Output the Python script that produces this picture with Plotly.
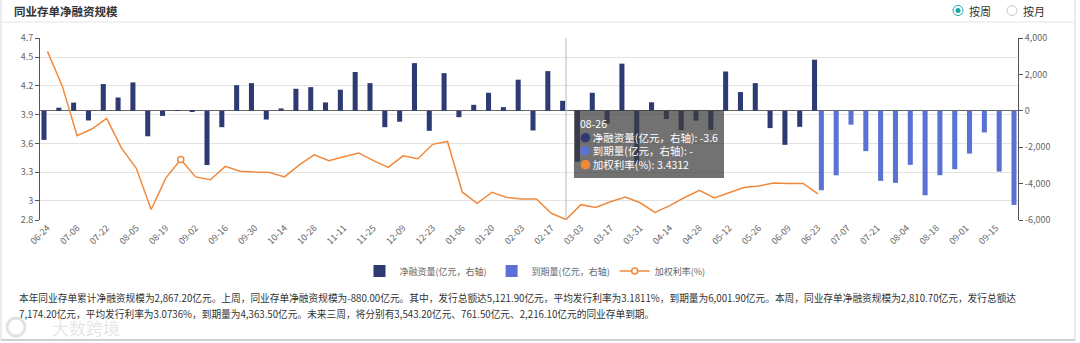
import plotly.graph_objects as go

# ---------------- data ----------------
categories = ["06-24", "07-01", "07-08", "07-15", "07-22", "07-29", "08-05", "08-12", "08-19", "08-26",
              "09-02", "09-09", "09-16", "09-23", "09-30", "10-07", "10-14", "10-21", "10-28", "11-04",
              "11-11", "11-18", "11-25", "12-02", "12-09", "12-16", "12-23", "12-30", "01-06", "01-13",
              "01-20", "01-27", "02-03", "02-10", "02-17", "02-24", "03-03", "03-10", "03-17", "03-24",
              "03-31", "04-07", "04-14", "04-21", "04-28", "05-05", "05-12", "05-19", "05-26", "06-02",
              "06-09", "06-16", "06-23", "06-30", "07-07", "07-14", "07-21", "07-28", "08-04", "08-11",
              "08-18", "08-25", "09-01", "09-08", "09-15", "09-22"]

net_financing = [-1600, 170, 450, -530, 1470, 730, 1560, -1400, -280, -3.6,
                 -60, -2980, -900, 1410, 1520, -480, 130, 1210, 1300, 460,
                 1160, 2130, 1520, -900, -600, 2620, -1100, 2070, -350, 330,
                 990, 200, 1710, -1080, 2180, 550, -2800, 990, -700, 2590,
                 -2900, 470, -450, -1060, -540, -1045, 2160, 1030, 1520, -950,
                 -1870, -880, 2810.7] + [None] * 13

maturity = [None] * 52 + [-4363.5, -3543.2, -761.5, -2216.1, -3850, -3960, -2970,
                          -4640, -3540, -3210, -2350, -1190, -3340, -5170]

weighted_rate = [4.56, 4.20, 3.68, 3.75, 3.86, 3.55, 3.34, 2.91, 3.24, 3.4312,
                 3.25, 3.22, 3.36, 3.31, 3.30, 3.295, 3.25, 3.375, 3.48, 3.42,
                 3.46, 3.50, 3.42, 3.35, 3.47, 3.44, 3.59, 3.62, 3.09, 2.975,
                 3.09, 3.035, 3.02, 3.02, 2.87, 2.805, 2.96, 2.93, 2.99, 3.04,
                 2.98, 2.88, 2.95, 3.035, 3.11, 3.03, 3.085, 3.14, 3.155, 3.187,
                 3.18, 3.1811, 3.0736] + [None] * 13

left_ticks = [2.8, 3, 3.3, 3.6, 3.9, 4.2, 4.5, 4.7]
right_ticks = [-6000, -4000, -2000, 0, 2000, 4000]
right_tick_text = ["-6,000", "-4,000", "-2,000", "0", "2,000", "4,000"]

hover_idx = 9        # point shown in the tooltip
pointer_idx = 35     # category where the axis pointer sits

title_text = "同业存单净融资规模"
summary_lines = [
    "本年同业存单累计净融资规模为2,867.20亿元。上周，同业存单净融资规模为-880.00亿元。其中，发行总额达5,121.90亿元，平均发行利率为3.1811%，到期量为6,001.90亿元。本周，同业存单净融资规模为2,810.70亿元，发行总额达",
    "7,174.20亿元，平均发行利率为3.0736%，到期量为4,363.50亿元。未来三周，将分别有3,543.20亿元、761.50亿元、2,216.10亿元的同业存单到期。",
]

NAVY = "#2e3a72"
BLUE = "#5a72d3"
ORANGE = "#ef8a3d"
FONT = "Noto Sans CJK SC, Microsoft YaHei, sans-serif"

# ---------------- layout geometry (pixels) ----------------
W, H = 1080, 343
ML, MR, MT, MB = 40, 62, 38, 123
PL, PR, PT, PB = ML, W - MR, MT, H - MB


def px(x):
    return (x - PL) / (PR - PL)


def py(y):
    return (PB - y) / (PB - PT)


fig = go.Figure()

fig.add_trace(go.Bar(x=categories, y=net_financing, name="净融资量(亿元，右轴)",
                     marker=dict(color=NAVY, line=dict(width=0)), yaxis="y", legendrank=1))
fig.add_trace(go.Bar(x=categories, y=maturity, name="到期量(亿元，右轴)",
                     marker=dict(color=BLUE, line=dict(width=0)), yaxis="y", legendrank=2))
fig.add_trace(go.Scatter(x=categories, y=weighted_rate, mode="lines", name="加权利率(%)",
                         line=dict(color=ORANGE, width=1.5), yaxis="y2", showlegend=False,
                         connectgaps=False))
fig.add_trace(go.Scatter(x=[categories[hover_idx]], y=[weighted_rate[hover_idx]],
                         mode="lines+markers", name="加权利率(%)", yaxis="y2", legendrank=3,
                         line=dict(color=ORANGE, width=1.5),
                         marker=dict(size=6, color="white", line=dict(color=ORANGE, width=1.5))))

fig.update_layout(
    width=W, height=H,
    margin=dict(l=ML, r=MR, t=MT, b=MB, pad=0),
    paper_bgcolor="white", plot_bgcolor="white",
    font=dict(family=FONT, color="#666", size=10),
    barmode="group", bargap=0.08, bargroupgap=0.26,
    showlegend=True,
    legend=dict(orientation="h", x=px(535), xanchor="center", y=py(271), yanchor="middle",
                font=dict(size=9, color="#666"), itemwidth=30, traceorder="normal",
                bgcolor="rgba(0,0,0,0)"),
    xaxis=dict(type="category", categoryorder="array", categoryarray=categories,
               tickmode="array", tickvals=categories[::2], ticktext=categories[::2],
               tickangle=-45, tickfont=dict(size=9, color="#666"),
               showgrid=False, showline=False, ticks="", zeroline=False),
    yaxis=dict(side="right", range=[-6000, 4000], tickmode="array", tickvals=right_ticks,
               ticktext=right_tick_text, showgrid=False, zeroline=True, zerolinecolor="#666",
               zerolinewidth=1, showline=True, linecolor="#555", linewidth=1, ticks="outside",
               ticklen=4, tickcolor="#555", tickfont=dict(size=9, color="#666")),
    yaxis2=dict(side="left", overlaying="y", range=[2.8, 4.7], tickmode="array",
                tickvals=left_ticks, ticktext=[str(v) for v in left_ticks],
                showgrid=True, gridcolor="#e3e3e3", gridwidth=1, zeroline=False,
                showline=True, linecolor="#555", linewidth=1, ticks="outside", ticklen=4,
                tickcolor="#555", tickfont=dict(size=9, color="#666")),
    hovermode=False,
)

shapes = []
# card border
shapes.append(dict(type="line", xref="paper", yref="paper", x0=px(1), x1=px(1), y0=py(-2), y1=py(340),
                   line=dict(color="#d9d9d9", width=1)))
shapes.append(dict(type="line", xref="paper", yref="paper", x0=px(1075), x1=px(1075), y0=py(-2), y1=py(340),
                   line=dict(color="#d9d9d9", width=1)))
shapes.append(dict(type="line", xref="paper", yref="paper", x0=px(1), x1=px(1075), y0=py(340), y1=py(340),
                   line=dict(color="#d0d0d0", width=2)))
# header separator
shapes.append(dict(type="line", xref="paper", yref="paper", x0=px(1), x1=px(1075), y0=py(22), y1=py(22),
                   line=dict(color="#e4e4e4", width=1)))
# axis pointer
shapes.append(dict(type="line", xref="x", yref="paper", x0=categories[pointer_idx], x1=categories[pointer_idx],
                   y0=0, y1=1, line=dict(color="#bbbbbb", width=1)))
# radio buttons
for cx, sel in [(958, True), (1012, False)]:
    shapes.append(dict(type="circle", xref="paper", yref="paper", xsizemode="pixel", ysizemode="pixel",
                       xanchor=px(cx), yanchor=py(10.5), x0=-5, x1=5, y0=-5, y1=5,
                       line=dict(color="#1aa6a6" if sel else "#c8c8c8", width=1), fillcolor="white"))
    if sel:
        shapes.append(dict(type="circle", xref="paper", yref="paper", xsizemode="pixel", ysizemode="pixel",
                           xanchor=px(cx), yanchor=py(10.5), x0=-2.5, x1=2.5, y0=-2.5, y1=2.5,
                           line=dict(color="#1aa6a6", width=0), fillcolor="#1aa6a6"))
# watermark logo ring
shapes.append(dict(type="circle", xref="paper", yref="paper", xsizemode="pixel", ysizemode="pixel",
                   xanchor=px(16), yanchor=py(327), x0=-9, x1=9, y0=-9, y1=9,
                   line=dict(color="rgba(190,190,190,0.45)", width=3), fillcolor="rgba(0,0,0,0)"))
fig.update_layout(shapes=shapes)

ann = []
ann.append(dict(text=f"<b>{title_text}</b>", xref="paper", yref="paper", x=px(12), y=py(10.5),
                xanchor="left", yanchor="middle", showarrow=False,
                font=dict(size=11.5, color="#333", family=FONT)))
ann.append(dict(text="按周", xref="paper", yref="paper", x=px(967), y=py(10.5), xanchor="left",
                yanchor="middle", showarrow=False, font=dict(size=11, color="#333")))
ann.append(dict(text="按月", xref="paper", yref="paper", x=px(1021), y=py(10.5), xanchor="left",
                yanchor="middle", showarrow=False, font=dict(size=11, color="#333")))
# watermark (drawn beneath the summary text)
ann.append(dict(text="大数跨境", xref="paper", yref="paper", x=px(50), y=py(327), xanchor="left",
                yanchor="middle", showarrow=False, font=dict(size=17, color="rgba(190,190,190,0.4)")))
for i, (line, yy) in enumerate(zip(summary_lines, [298, 314])):
    ann.append(dict(text=line, xref="paper", yref="paper", x=px(17), y=py(yy), xanchor="left",
                    yanchor="middle", showarrow=False, font=dict(size=9.7, color="#333")))


def fmt(v):
    return "-" if v is None else (f"{v:g}")


tip = (f"{categories[hover_idx]}<br>"
       f"<span style='color:{NAVY}'>●</span> 净融资量(亿元，右轴): {fmt(net_financing[hover_idx])}<br>"
       f"<span style='color:{BLUE}'>●</span> 到期量(亿元，右轴): {fmt(maturity[hover_idx])}<br>"
       f"<span style='color:{ORANGE}'>●</span> 加权利率(%): {fmt(weighted_rate[hover_idx])}")
ann.append(dict(text=tip, xref="paper", yref="paper", x=px(574), y=py(110), xanchor="left",
                yanchor="top", showarrow=False, align="left", bgcolor="rgba(60,60,60,0.72)",
                borderpad=6, borderwidth=0, font=dict(size=10.5, color="white")))
fig.update_layout(annotations=ann)

fig.write_html("out.html")
